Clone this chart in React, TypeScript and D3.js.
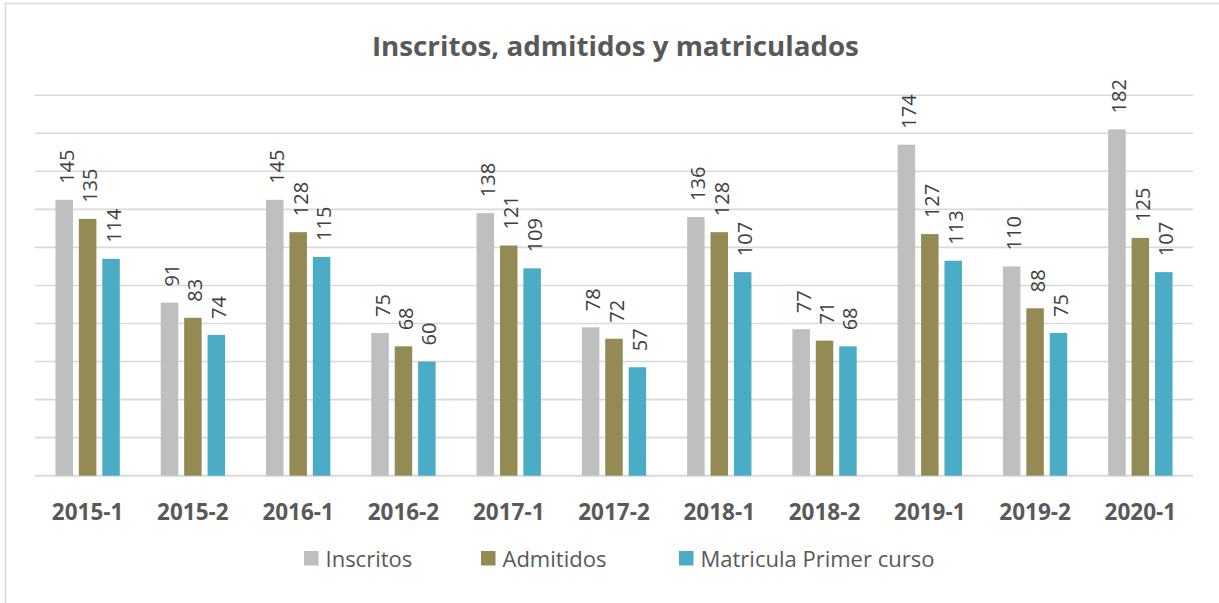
import * as d3 from 'd3'

const categories = ['2015-1', '2015-2', '2016-1', '2016-2', '2017-1', '2017-2', '2018-1', '2018-2', '2019-1', '2019-2', '2020-1']
const inscritos = [145, 91, 145, 75, 138, 78, 136, 77, 174, 110, 182]
const admitidos = [135, 83, 128, 68, 121, 72, 128, 71, 127, 88, 125]
const matricula = [114, 74, 115, 60, 109, 57, 107, 68, 113, 75, 107]
const yTicks = [0, 20, 40, 60, 80, 100, 120, 140, 160, 180, 200]

const series = [
  { label: 'Inscritos', color: '#BFBFBF', values: inscritos },
  { label: 'Admitidos', color: '#948A54', values: admitidos },
  { label: 'Matricula Primer curso', color: '#4BACC6', values: matricula },
]

const W = 1219
const H = 603
const plot = { left: 35, right: 1193, top: 95.2, bottom: 475.7 }
const FONT = '"Open Sans", "Noto Sans", sans-serif'

export default function App() {
  const x = d3.scaleBand<string>().domain(categories).range([plot.left, plot.right])
  const y = d3.scaleLinear().domain([0, 200]).range([plot.bottom, plot.top])
  // bars inside one category group
  const inner = d3
    .scaleBand<number>()
    .domain(series.map((_, i) => i))
    .range([-32.15, 32.15])
    .paddingInner(0.252)

  // legend slots (square x)
  const legendX = [304, 481, 679]

  return (
    <svg
      width={W}
      height={H}
      style={{ position: 'absolute', left: 0, top: 0, background: '#fff' }}
    >
      <rect x={5.5} y={3.5} width={1240} height={640} fill="#fff" stroke="#d9d9d9" strokeWidth={1.5} />

      <text
        x={615.4}
        y={56}
        textAnchor="middle"
        fontFamily={FONT}
        fontWeight={700}
        fontSize={26}
        fill="#595959"
        textLength={487}
        lengthAdjust="spacingAndGlyphs"
      >
        Inscritos, admitidos y matriculados
      </text>

      {/* gridlines */}
      {yTicks.map(t => (
        <line
          key={t}
          x1={plot.left}
          x2={plot.right}
          y1={y(t)}
          y2={y(t)}
          stroke="#d9d9d9"
          strokeWidth={t === 0 ? 2 : 1.6}
        />
      ))}

      {/* bars */}
      {series.map((s, si) =>
        categories.map((c, ci) => {
          const cx = (x(c) as number) + x.bandwidth() / 2
          const bx = cx + (inner(si) as number)
          return (
            <rect
              key={`${si}-${ci}`}
              x={bx}
              y={y(s.values[ci])}
              width={inner.bandwidth()}
              height={y(0) - y(s.values[ci])}
              fill={s.color}
            />
          )
        })
      )}

      {/* data labels */}
      {series.map((s, si) =>
        categories.map((c, ci) => {
          const cx = (x(c) as number) + x.bandwidth() / 2
          const lx = cx + (inner(si) as number) + inner.bandwidth() / 2 + 2
          const ly = y(s.values[ci]) - 16
          return (
            <text
              key={`l-${si}-${ci}`}
              transform={`translate(${lx},${ly}) rotate(-90)`}
              dominantBaseline="central"
              fontFamily={FONT}
              fontSize={20}
              fill="#404040"
            >
              {s.values[ci]}
            </text>
          )
        })
      )}

      {/* x axis labels */}
      {categories.map(c => (
        <text
          key={c}
          x={(x(c) as number) + x.bandwidth() / 2}
          y={520}
          textAnchor="middle"
          fontFamily={FONT}
          fontWeight={700}
          fontSize={22.5}
          fill="#595959"
        >
          {c}
        </text>
      ))}

      {/* legend */}
      {series.map((s, i) => (
        <g key={s.label}>
          <rect x={legendX[i]} y={551} width={14.5} height={14.5} fill={s.color} />
          <text
            x={legendX[i] + 21.5}
            y={566.5}
            fontFamily={FONT}
            fontSize={22}
            fill="#595959"
          >
            {s.label}
          </text>
        </g>
      ))}
    </svg>
  )
}
